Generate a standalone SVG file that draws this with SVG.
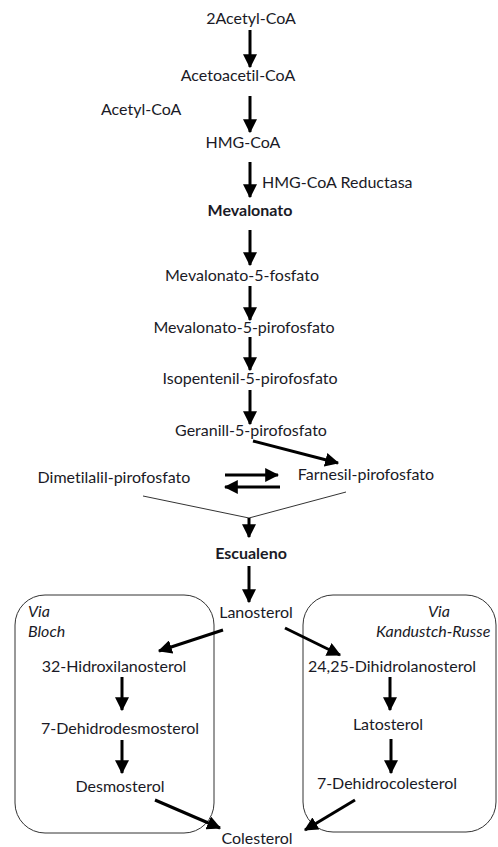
<svg xmlns="http://www.w3.org/2000/svg" width="498" height="847" viewBox="0 0 498 847">
<defs>
<marker id="ah" markerUnits="userSpaceOnUse" markerWidth="14" markerHeight="14" viewBox="0 0 12 12" refX="11" refY="6" orient="auto">
<path d="M0,0 L12,6 L0,12 Z" fill="#000"/>
</marker>
<style>
text{font-family:Lato,"Open Sans","Liberation Sans",sans-serif;font-size:16px;fill:#1a1a26;font-variant-ligatures:none;font-feature-settings:"liga" 0,"dlig" 0}
.m{text-anchor:middle}
.b{font-weight:bold}
.i{font-style:italic}
.a{stroke:#000;stroke-width:3;fill:none;marker-end:url(#ah)}
.t{stroke:#333;stroke-width:1;fill:none}
.box{fill:none;stroke:#333;stroke-width:1}
</style>
</defs>
<rect width="498" height="847" fill="#fff"/>
<g id="boxes">
<rect class="box" x="15" y="595" width="199" height="238" rx="30"/>
<rect class="box" x="303" y="595" width="193" height="237" rx="30"/>
</g>
<g id="connectors">
<line class="a" x1="250" y1="30" x2="250" y2="67"/>
<line class="a" x1="250" y1="96" x2="250" y2="132"/>
<line class="a" x1="250" y1="162" x2="250" y2="197"/>
<line class="a" x1="250" y1="230" x2="250" y2="265"/>
<line class="a" x1="250" y1="286" x2="250" y2="320"/>
<line class="a" x1="250" y1="337" x2="250" y2="370"/>
<line class="a" x1="250" y1="390" x2="250" y2="424"/>
<line class="a" x1="253" y1="441" x2="338" y2="463"/>
<line class="a" x1="225" y1="475" x2="278" y2="475"/>
<line class="a" x1="280" y1="487" x2="225" y2="487"/>
<polyline class="t" points="143,496 249,518 346,492"/>
<line class="a" x1="249" y1="518" x2="249" y2="537"/>
<line class="a" x1="249" y1="566" x2="249" y2="602"/>
<line class="a" x1="223" y1="630" x2="159" y2="651"/>
<line class="a" x1="285" y1="628" x2="340" y2="655"/>
<line class="a" x1="122" y1="677" x2="122" y2="710"/>
<line class="a" x1="122" y1="740" x2="122" y2="773"/>
<line class="a" x1="390" y1="677" x2="390" y2="710"/>
<line class="a" x1="391" y1="739" x2="391" y2="773"/>
<line class="a" x1="155" y1="800" x2="220" y2="828"/>
<line class="a" x1="355" y1="800" x2="305" y2="830"/>
</g>
<g id="n-acetylcoa2"><text class="m" x="251" y="24">2Acetyl-CoA</text></g>
<g id="n-acetoacetil"><text class="m" x="238" y="81">Acetoacetil-CoA</text></g>
<g id="n-acetylcoa"><text x="101" y="115">Acetyl-CoA</text></g>
<g id="n-hmgcoa"><text class="m" x="243" y="148">HMG-CoA</text></g>
<g id="n-reductasa"><text x="262" y="188">HMG-CoA Reductasa</text></g>
<g id="n-mevalonato"><text class="m b" x="250" y="216">Mevalonato</text></g>
<g id="n-mev5f"><text class="m" x="242" y="281">Mevalonato-5-fosfato</text></g>
<g id="n-mev5pp"><text class="m" x="244" y="333">Mevalonato-5-pirofosfato</text></g>
<g id="n-ipp"><text class="m" x="250" y="384">Isopentenil-5-pirofosfato</text></g>
<g id="n-gpp"><text class="m" x="251" y="436">Geranill-5-pirofosfato</text></g>
<g id="n-dmapp"><text class="m" x="114" y="483">Dimetilalil-pirofosfato</text></g>
<g id="n-fpp"><text class="m" x="366" y="480">Farnesil-pirofosfato</text></g>
<g id="n-escualeno"><text class="m b" x="251" y="559">Escualeno</text></g>
<g id="n-lanosterol"><text class="m" x="256" y="618">Lanosterol</text></g>
<g id="n-viabloch"><text class="i" x="28" y="617">Via</text><text class="i" x="28" y="637">Bloch</text></g>
<g id="n-viakr"><text class="i" x="428" y="617">Via</text><text class="i" x="376" y="637">Kandustch-Russe</text></g>
<g id="n-32hidrox"><text class="m" x="114" y="672">32-Hidroxilanosterol</text></g>
<g id="n-7dhdesmo"><text class="m" x="120" y="734">7-Dehidrodesmosterol</text></g>
<g id="n-desmosterol"><text class="m" x="120" y="792">Desmosterol</text></g>
<g id="n-2425"><text class="m" x="392" y="672">24,25-Dihidrolanosterol</text></g>
<g id="n-latosterol"><text class="m" x="388" y="730">Latosterol</text></g>
<g id="n-7dhc"><text class="m" x="387" y="789">7-Dehidrocolesterol</text></g>
<g id="n-colesterol"><text class="m" x="257" y="844">Colesterol</text></g>
</svg>
